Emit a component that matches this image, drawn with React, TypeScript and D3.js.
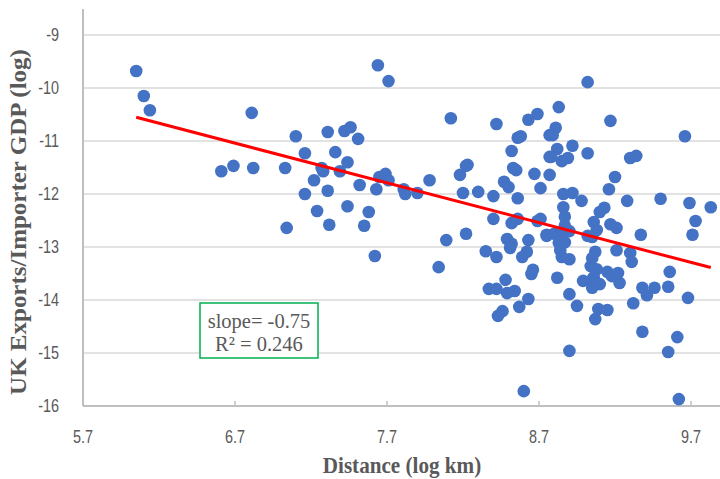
import React from "react";
import * as d3 from "d3";

const distance: number[] = [
  6.05, 6.10, 6.14, 6.81, 6.61, 6.69, 6.82, 7.03, 7.10, 7.16,
  7.31, 7.42, 7.46, 7.51, 7.36, 7.44, 7.27, 7.28, 7.39, 7.22,
  7.16, 7.31, 7.52, 7.63, 7.65, 7.69, 7.71, 7.81, 7.82, 7.90,
  7.98, 7.24, 7.44, 7.58, 7.32, 7.55, 7.04, 7.62, 7.64, 7.71,
  8.12, 8.42, 8.18, 8.22, 8.23, 8.20, 8.30, 8.40, 8.47, 8.50,
  8.53, 8.55, 8.52, 8.56, 8.58, 8.63, 8.69, 8.77, 8.77, 8.67,
  8.77, 8.71, 8.56, 8.83, 9.02, 9.17, 8.81, 8.79, 8.82, 8.92,
  8.78, 9.02, 8.85, 8.89, 9.30, 9.34, 9.20, 9.16, 8.86, 8.92,
  8.98, 8.86, 9.13, 9.10, 9.28, 9.50, 9.69, 9.83, 9.66, 8.87,
  9.73, 9.71, 8.69, 8.71, 8.52, 8.56, 8.75, 8.80, 8.87, 8.90,
  8.86, 9.06, 9.08, 9.17, 9.21, 9.02, 9.05, 9.37, 8.63, 8.49,
  8.52, 8.51, 8.75, 8.40, 8.09, 8.22, 8.83, 8.87, 8.84, 8.85,
  8.90, 9.07, 9.05, 9.21, 9.30, 9.31, 8.62, 8.59, 8.35, 8.42,
  9.04, 9.08, 9.56, 8.66, 8.65, 9.15, 9.18, 9.22, 8.82, 8.48,
  8.99, 9.04, 9.06, 9.10, 9.05, 9.23, 9.55, 9.38, 9.41, 9.46,
  8.54, 8.49, 8.37, 8.42, 8.90, 8.63, 9.32, 9.68, 8.46, 8.43,
  8.57, 8.95, 9.09, 9.15, 9.07, 9.38, 9.61, 9.55, 8.90, 8.60,
  9.62, 8.04,
];

const exportsGdp: number[] = [
  -9.68, -10.15, -10.42, -10.47, -11.57, -11.47, -11.51, -11.51, -10.91, -11.23,
  -10.83, -10.81, -10.74, -10.96, -11.21, -11.40, -11.51, -11.57, -11.57, -11.74,
  -12.00, -11.94, -11.83, -11.91, -11.68, -11.62, -11.74, -11.91, -12.00, -11.98,
  -11.74, -12.32, -12.23, -12.34, -12.58, -12.60, -12.64, -13.17, -9.57, -9.87,
  -10.57, -10.68, -11.64, -11.47, -11.45, -11.98, -11.96, -12.04, -11.77, -11.87,
  -11.51, -11.55, -11.19, -10.94, -10.91, -10.60, -10.49, -10.89, -11.30, -11.62,
  -11.64, -11.89, -12.08, -10.36, -9.89, -10.62, -10.75, -10.89, -11.15, -11.09,
  -11.30, -11.23, -11.38, -11.32, -11.32, -11.28, -11.68, -11.91, -12.00, -11.98,
  -12.13, -12.25, -12.26, -12.34, -12.13, -12.09, -12.17, -12.25, -10.91, -12.43,
  -12.51, -12.77, -12.51, -12.47, -12.55, -12.47, -12.77, -12.75, -12.60, -12.70,
  -12.74, -12.53, -12.68, -12.57, -12.64, -12.79, -12.81, -12.77, -12.87, -12.85,
  -12.94, -13.02, -12.79, -12.47, -12.87, -12.75, -12.92, -12.91, -13.06, -13.19,
  -13.23, -13.09, -13.21, -13.06, -13.11, -13.28, -13.09, -13.19, -13.08, -13.19,
  -13.36, -13.42, -13.47, -13.43, -13.51, -13.47, -13.55, -13.49, -13.58, -13.62,
  -13.64, -13.64, -13.57, -13.70, -13.77, -13.68, -13.75, -13.77, -13.91, -13.77,
  -13.83, -13.87, -13.79, -13.79, -13.89, -13.98, -14.06, -13.96, -14.21, -14.30,
  -14.13, -14.11, -14.17, -14.19, -14.36, -14.60, -14.70, -14.98, -14.96, -15.72,
  -15.87, -13.38,
];

const xTicks: number[] = [5.7, 6.7, 7.7, 8.7, 9.7];
const yTicks: number[] = [-9, -10, -11, -12, -13, -14, -15, -16];

const trendSlope = -0.75;
const trendIntercept = -6.015;
const annotationLines: string[] = ["slope= -0.75", "R² = 0.246"];
const xTitle = "Distance (log km)";
const yTitle = "UK Exports/Importer GDP (log)";

export default function App() {
  const W = 720;
  const H = 479;
  const x = d3.scaleLinear().domain([5.7, 9.7]).range([83, 691]);
  const y = d3.scaleLinear().domain([-9, -16]).range([35, 406]);
  const xMaxPx = 720;
  const yTopPx = 9;

  const xMin = d3.min(distance) as number;
  const xMax = d3.max(distance) as number;
  const trend = d3
    .line<number>()
    .x((d) => x(d))
    .y((d) => y(trendIntercept + trendSlope * d));

  const grey = "#595959";
  const tickFont = "'Liberation Sans', Arial, sans-serif";
  const serif = "'Liberation Serif', 'Times New Roman', serif";

  return (
    <svg
      width={W}
      height={H}
      style={{ position: "absolute", left: 0, top: 0, background: "#fff" }}
    >
      <rect x={0} y={0} width={W} height={H} fill="#fff" />
      {yTicks
        .filter((t) => t !== -16)
        .map((t) => (
          <line
            key={"g" + t}
            x1={x(5.7)}
            x2={xMaxPx}
            y1={y(t)}
            y2={y(t)}
            stroke="#d9d9d9"
            strokeWidth={1.5}
          />
        ))}
      <line x1={x(5.7)} x2={x(5.7)} y1={yTopPx} y2={y(-16)} stroke="#bfbfbf" strokeWidth={2} />
      <line x1={x(5.7)} x2={xMaxPx} y1={y(-16)} y2={y(-16)} stroke="#bfbfbf" strokeWidth={2} />
      {xTicks.map((t) => (
        <line
          key={"xt" + t}
          x1={x(t)}
          x2={x(t)}
          y1={y(-16)}
          y2={y(-16) - 5}
          stroke="#bfbfbf"
          strokeWidth={1.5}
        />
      ))}
      {yTicks.map((t) => (
        <text
          key={"yl" + t}
          transform={`translate(59,${y(t)}) scale(0.8,1)`}
          dy="0.35em"
          textAnchor="end"
          fontFamily={tickFont}
          fontSize={18}
          fill={grey}
        >
          {t}
        </text>
      ))}
      {xTicks.map((t) => (
        <text
          key={"xl" + t}
          transform={`translate(${x(t)},437) scale(0.8,1)`}
          dy="0.35em"
          textAnchor="middle"
          fontFamily={tickFont}
          fontSize={18}
          fill={grey}
        >
          {t.toFixed(1)}
        </text>
      ))}
      {distance.map((d, i) => (
        <circle key={"p" + i} cx={x(d)} cy={y(exportsGdp[i])} r={6.3} fill="#4472C4" />
      ))}
      <path d={trend([xMin, xMax]) || ""} stroke="#FF0000" strokeWidth={3} fill="none" />
      <rect x={200} y={303} width={118} height={55} fill="#fff" stroke="#00B050" strokeWidth={1.5} />
      {annotationLines.map((s, i) => (
        <text
          key={"a" + i}
          x={259}
          y={321 + i * 23}
          dy="0.35em"
          textAnchor="middle"
          fontFamily={serif}
          fontSize={20.5}
          fill={grey}
        >
          {s}
        </text>
      ))}
      <text
        transform={`translate(402,465) scale(0.92,1)`}
        dy="0.35em"
        textAnchor="middle"
        fontFamily={serif}
        fontWeight="bold"
        fontSize={23}
        fill={grey}
      >
        {xTitle}
      </text>
      <text
        transform={`translate(18,222) rotate(-90) scale(1,0.9)`}
        dy="0.35em"
        textAnchor="middle"
        fontFamily={serif}
        fontWeight="bold"
        fontSize={25}
        fill={grey}
      >
        {yTitle}
      </text>
    </svg>
  );
}
